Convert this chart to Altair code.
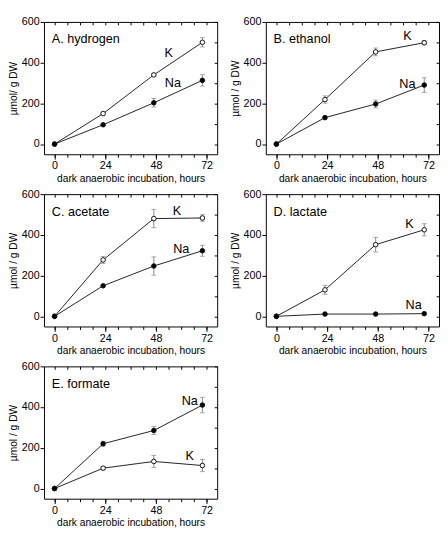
import altair as alt
import pandas as pd

# ---- data ----
times = [0, 23, 47, 70]
panel_titles = ["A. hydrogen", "B. ethanol", "C. acetate", "D. lactate", "E. formate"]
y_titles = ["µmol/ g DW", "µmol / g DW", "µmol / g DW", "µmol / g DW", "µmol / g DW"]
x_title = "dark anaerobic incubation, hours"

k_values = [
    [0, 150, 340, 500],
    [0, 219, 453, 498],
    [0, 277, 480, 483],
    [0, 130, 352, 425],
    [0, 100, 133, 113],
]
k_errors = [
    [0, 6, 5, 23],
    [0, 18, 19, 10],
    [0, 17, 45, 16],
    [0, 22, 36, 30],
    [0, 8, 30, 30],
]
na_values = [
    [0, 95, 203, 313],
    [0, 130, 197, 290],
    [0, 150, 247, 322],
    [0, 11, 11, 13],
    [0, 220, 285, 410],
]
na_errors = [
    [0, 5, 21, 28],
    [0, 5, 19, 36],
    [0, 5, 45, 27],
    [0, 0, 0, 0],
    [0, 12, 20, 38],
]
k_label_x = [54, 62, 58, 63, 64]
k_label_y = [448, 530, 517, 453, 161]
na_label_x = [56, 62, 60, 65, 64]
na_label_y = [298, 293, 328, 55, 431]

x_major = [0, 24, 48, 72]
x_minor = [0, 6, 12, 18, 24, 30, 36, 42, 48, 54, 60, 66, 72]
y_major = [0, 200, 400, 600]
y_minor = [0, 100, 200, 300, 400, 500, 600]
x_domain = [-5, 77]
y_domain = [-50, 600]

FONT = "Liberation Sans"
LINE = "#222222"
ERR = "#888888"
W, H = 178, 136


def make_panel(i):
    rows = []
    for s, vals, errs in (("K", k_values[i], k_errors[i]), ("Na", na_values[i], na_errors[i])):
        for t, v, e in zip(times, vals, errs):
            rows.append({"t": t, "v": v, "lo": v - e, "hi": v + e, "s": s, "e": e})
    df = pd.DataFrame(rows)
    edf = df[df["e"] > 0]
    xs = alt.Scale(domain=x_domain, nice=False, zero=False)
    ys = alt.Scale(domain=y_domain, nice=False, zero=False)

    line = alt.Chart(df).mark_line(color=LINE, strokeWidth=1).encode(
        x=alt.X("t:Q", scale=xs, axis=alt.Axis(orient="bottom", values=x_major, tickSize=5,
                                               domain=False, title=x_title)),
        y=alt.Y("v:Q", scale=ys, axis=alt.Axis(orient="left", values=y_major, tickSize=4,
                                               domain=False, title=y_titles[i])),
        detail="s:N",
    )
    bars = alt.Chart(edf).mark_rule(color=ERR, strokeWidth=1).encode(
        x=alt.X("t:Q", scale=xs, axis=alt.Axis(orient="bottom", values=x_minor, tickSize=3,
                                               labels=False, domain=False, title=None)),
        y=alt.Y("lo:Q", scale=ys, axis=alt.Axis(orient="right", values=y_minor, tickSize=3, offset=-3,
                                                labels=False, domain=False, title=None)),
        y2="hi:Q",
    )
    caps_lo = alt.Chart(edf).mark_tick(color=ERR, orient="horizontal", size=5, thickness=1).encode(
        x=alt.X("t:Q", scale=xs, axis=None),
        y=alt.Y("lo:Q", scale=ys, axis=None),
    )
    caps_hi = alt.Chart(edf).mark_tick(color=ERR, orient="horizontal", size=5, thickness=1).encode(
        x=alt.X("t:Q", scale=xs, axis=None),
        y=alt.Y("hi:Q", scale=ys, axis=None),
    )
    pts = alt.Chart(df).mark_circle(size=22, stroke="#111111", strokeWidth=1, opacity=1).encode(
        x=alt.X("t:Q", scale=xs, axis=alt.Axis(orient="top", values=x_minor, tickSize=3, offset=-3,
                                               labels=False, domain=False, title=None)),
        y=alt.Y("v:Q", scale=ys, axis=None),
        fill=alt.Fill("s:N", scale=alt.Scale(domain=["K", "Na"], range=["white", "black"]), legend=None),
    )
    ldf = pd.DataFrame({
        "lx": [k_label_x[i], na_label_x[i]],
        "ly": [k_label_y[i], na_label_y[i]],
        "txt": ["K", "Na"],
    })
    labels = alt.Chart(ldf).mark_text(fontSize=13, font=FONT, color="black").encode(
        x=alt.X("lx:Q", scale=xs, axis=None),
        y=alt.Y("ly:Q", scale=ys, axis=None),
        text="txt:N",
    )
    title = alt.Chart(pd.DataFrame({"label": [panel_titles[i]]})).mark_text(
        align="left", baseline="middle", fontSize=13, font=FONT, color="black"
    ).encode(x=alt.value(8), y=alt.value(18), text="label:N")

    return alt.layer(line, bars, caps_lo, caps_hi, pts, labels, title).resolve_axis(
        x="independent", y="independent"
    ).properties(width=W, height=H)


panels = [make_panel(i) for i in range(5)]

chart = alt.vconcat(
    alt.hconcat(panels[0], panels[1], spacing=12),
    alt.hconcat(panels[2], panels[3], spacing=12),
    panels[4],
    spacing=3,
).properties(
    padding={"left": 0, "top": 0, "right": 0, "bottom": 0}
).configure_view(
    stroke="black", strokeWidth=1
).configure_axis(
    labelFont=FONT, labelFontSize=11, labelColor="black", labelPadding=1,
    titleFont=FONT, titleFontSize=10.5, titleFontWeight="normal", titleColor="black", titlePadding=3,
    tickColor="black", grid=False,
)

chart.save("out.html", embed_options={"renderer": "svg", "actions": False})
